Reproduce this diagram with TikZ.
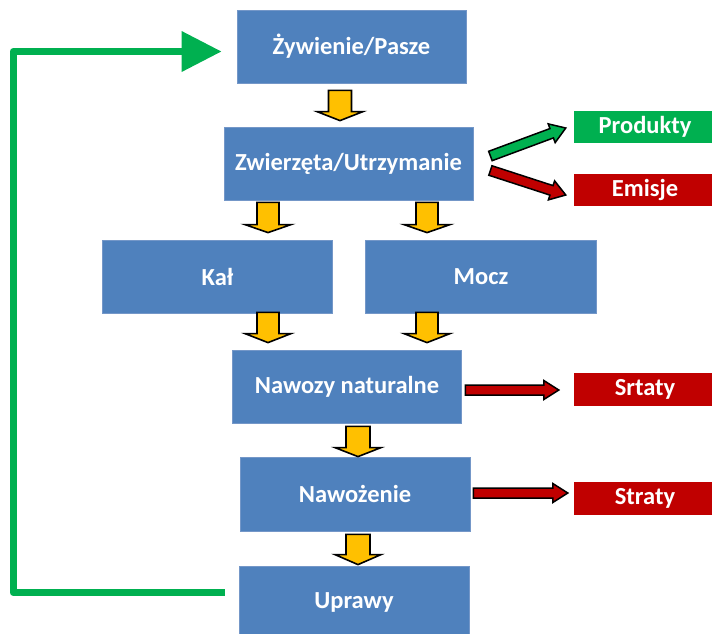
\documentclass[tikz,border=0pt]{standalone}
\usepackage{fontspec}
\setmainfont{Carlito}
\usetikzlibrary{arrows.meta,calc}
\definecolor{boxblue}{HTML}{4F81BD}
\definecolor{boxedge}{HTML}{7497C8}
\definecolor{okgreen}{HTML}{00B050}
\definecolor{darkred}{HTML}{C00000}
\definecolor{amber}{HTML}{FFC000}
% #1 style, #2 from, #3 to, #4 shaft half width, #5 head half width, #6 head length
\newcommand\blockarrow[6]{%
  \path[#1] let \p1=(#2), \p2=(#3),
     \n1={atan2(\y2-\y1,\x2-\x1)}, \n2={veclen(\x2-\x1,\y2-\y1)} in
     ([shift={(\p1)},rotate=\n1]0pt,-#4pt)
  -- ([shift={(\p1)},rotate=\n1]\n2-#6pt,-#4pt)
  -- ([shift={(\p1)},rotate=\n1]\n2-#6pt,-#5pt)
  -- ([shift={(\p1)},rotate=\n1]\n2,0pt)
  -- ([shift={(\p1)},rotate=\n1]\n2-#6pt,#5pt)
  -- ([shift={(\p1)},rotate=\n1]\n2-#6pt,#4pt)
  -- ([shift={(\p1)},rotate=\n1]0pt,#4pt) -- cycle;}
\tikzset{
  txt/.style={text=white, font=\fontsize{24.5}{28}\selectfont\bfseries, inner sep=0pt},
  bluebox/.style={txt, rectangle, fill=boxblue, draw=boxedge, line width=0.8pt},
  greenbox/.style={txt, rectangle, fill=okgreen, minimum width=142pt, minimum height=32pt},
  redbox/.style={txt, rectangle, fill=darkred, minimum width=142pt, minimum height=33pt},
  yarrow/.style={fill=amber, draw=black, line width=1.6pt, line join=miter},
  rarrow/.style={fill=darkred, draw=black, line width=1.5pt, line join=miter},
  garrow/.style={fill=okgreen, draw=black, line width=1.5pt, line join=miter},
}
\begin{document}
\begin{tikzpicture}[x=1pt, y=-1pt]
\useasboundingbox (0,0) rectangle (712,633);
\fill[white] (0,0) rectangle (712,633);
\clip (0,0) rectangle (712,633);

\node[bluebox, minimum width=229pt, minimum height=73pt] (zyw) at (351.5,46.5) {Żywienie/Pasze};
\node[bluebox, minimum width=249pt, minimum height=73pt] (zwi) at (348.5,163.5) {Zwierzęta/Utrzymanie};
\node[bluebox, minimum width=230pt, minimum height=73pt] (kal) at (217.5,276.5) {Kał};
\node[bluebox, minimum width=231pt, minimum height=73pt] (mocz) at (481,276.5) {Mocz};
\node[bluebox, minimum width=229pt, minimum height=73pt] (nawozy) at (347,386.5) {Nawozy naturalne};
\node[bluebox, minimum width=230pt, minimum height=74pt] (nawoz) at (355,494) {Nawożenie};
\node[bluebox, minimum width=230pt, minimum height=73pt] (upr) at (354,602.5) {Uprawy};

\node[greenbox] (prod) at (645,127) {Produkty};
\node[redbox, minimum height=32pt] (emis) at (645,190) {Emisje};
\node[redbox] (srt1) at (645,389.5) {Srtaty};
\node[redbox] (srt2) at (645,498.5) {Straty};

% yellow block arrows
\coordinate (a1s) at ($(zyw.south)+(-11.5,7)$);   \coordinate (a1e) at ($(zwi.north)+(-8.5,-6)$);
\coordinate (a2s) at ($(zwi.south)+(-80.5,2)$);   \coordinate (a2e) at ($(kal.north)+(50.5,-7)$);
\coordinate (a3s) at ($(zwi.south)+(78.5,2)$);    \coordinate (a3e) at ($(mocz.north)+(-54,-7)$);
\coordinate (a4s) at ($(kal.south)+(50.5,-1)$);   \coordinate (a4e) at ($(nawozy.north)+(-79,-7)$);
\coordinate (a5s) at ($(mocz.south)+(-54,-1)$);   \coordinate (a5e) at ($(nawozy.north)+(80,-7)$);
\coordinate (a6s) at ($(nawozy.south)+(11,3)$);   \coordinate (a6e) at ($(nawoz.north)+(3,0)$);
\coordinate (a7s) at ($(nawoz.south)+(3,3)$);     \coordinate (a7e) at ($(upr.north)+(4,-1)$);
\blockarrow{yarrow}{a1s}{a1e}{11.5}{23}{9}
\blockarrow{yarrow}{a2s}{a2e}{11}{23}{8}
\blockarrow{yarrow}{a3s}{a3e}{11}{23}{8}
\blockarrow{yarrow}{a4s}{a4e}{11}{23}{9}
\blockarrow{yarrow}{a5s}{a5e}{11}{23}{9}
\blockarrow{yarrow}{a6s}{a6e}{12}{23}{9}
\blockarrow{yarrow}{a7s}{a7e}{12}{23}{10}

% side arrows
\coordinate (g1s) at ($(zwi.east)+(17,-7.5)$);  \coordinate (g1e) at ($(prod.west)+(-8,1)$);
\coordinate (r3s) at ($(zwi.east)+(17,7)$);     \coordinate (r3e) at ($(emis.west)+(-8,5)$);
\coordinate (r1s) at ($(nawozy.east)+(3.5,3.5)$); \coordinate (r1e) at ($(srt1.west)+(-15,0.5)$);
\coordinate (r2s) at ($(nawoz.east)+(3,-1)$);   \coordinate (r2e) at ($(srt2.west)+(-6,-5.5)$);
\blockarrow{garrow}{g1s}{g1e}{5}{10}{15}
\blockarrow{rarrow}{r3s}{r3e}{5}{10}{15}
\blockarrow{rarrow}{r1s}{r1e}{5}{9.5}{15}
\blockarrow{rarrow}{r2s}{r2e}{5}{9.5}{15}

% feedback loop
\coordinate (fbs) at ($(upr.west)+(-14,-10)$);
\coordinate (fbc) at (13,592.5);
\coordinate (fbe) at ($(zyw.west)+(-15,5)$);
\draw[okgreen, line width=7pt, line join=round, -{Triangle[length=40pt,width=39pt]}]
  (fbs) -- (fbc) |- (fbe);
\end{tikzpicture}
\end{document}
